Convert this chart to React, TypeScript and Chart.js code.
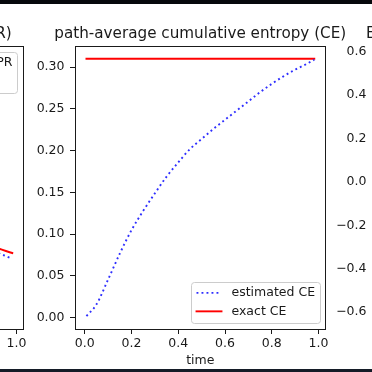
import React, { useEffect, useRef } from "react";
import { Chart, registerables } from "chart.js";

Chart.register(...registerables);

const FONT = "'DejaVu Sans', sans-serif";
const INK = "#1a1a1a";
const BLUE = "#2f2fff";
const RED = "#ff0000";

// shared time axis
const X_TICKS = [0, 0.2, 0.4, 0.6, 0.8, 1.0];
const X_MIN = -0.042;
const X_MAX = 1.03;

// middle panel: path-average cumulative entropy
const CE_TIME = [0.007, 0.05, 0.1, 0.15, 0.2, 0.25, 0.3, 0.35, 0.4, 0.45, 0.5, 0.55, 0.6, 0.65, 0.7, 0.75, 0.8, 0.85, 0.9, 0.95, 0.982];
const CE_ESTIMATED = [0.002, 0.016, 0.046, 0.077, 0.105, 0.128, 0.149, 0.169, 0.186, 0.202, 0.214, 0.226, 0.237, 0.248, 0.259, 0.27, 0.28, 0.289, 0.297, 0.304, 0.309];
const CE_EXACT_TIME = [0.007, 0.982];
const CE_EXACT = [0.31, 0.31];
const CE_Y_TICKS = [0, 0.05, 0.1, 0.15, 0.2, 0.25, 0.3];
const CE_Y_MIN = -0.0135;
const CE_Y_MAX = 0.3245;

// left panel: entropy production rate (only its right edge is in view)
const EPR_TIME = [0.007, 0.2, 0.4, 0.6, 0.8, 0.9, 0.982];
const EPR_ESTIMATED = [0.27, 0.19, 0.15, 0.117, 0.092, 0.08, 0.0706];
const EPR_EXACT = [0.28, 0.2, 0.155, 0.122, 0.097, 0.085, 0.0775];
const EPR_Y_TICKS = [0, 0.1, 0.2, 0.3];
const EPR_Y_MIN = -0.0135;
const EPR_Y_MAX = 0.3245;

// right panel (only its y tick labels are in view)
const ERR_Y_TICKS = [-0.6, -0.4, -0.2, 0, 0.2, 0.4, 0.6];
const ERR_Y_MIN = -0.678;
const ERR_Y_MAX = 0.623;

type LegendItem = { label: string; color: string; dash: number[] };
type Spec = {
  offset: number;
  title: string;
  datasets: any[];
  yMin: number;
  yMax: number;
  yTicks: number[];
  yDecimals: number;
  legend: LegendItem[] | null;
  corner: "upper right" | "lower right";
};

const fmt = (v: number, d: number) => {
  const s = Math.abs(v).toFixed(d);
  return v < -1e-9 ? "\u2212" + s : s;
};

const dotted = (xs: number[], ys: number[], label: string) => ({
  label,
  data: xs.map((x, i) => ({ x, y: ys[i] })),
  borderColor: BLUE,
  borderWidth: 1.9,
  borderDash: [1.9, 3.1],
  borderCapStyle: "butt",
  pointRadius: 0,
  cubicInterpolationMode: "monotone",
  fill: false,
});

const solid = (xs: number[], ys: number[], label: string) => ({
  label,
  data: xs.map((x, i) => ({ x, y: ys[i] })),
  borderColor: RED,
  borderWidth: 1.9,
  borderCapStyle: "square",
  pointRadius: 0,
  cubicInterpolationMode: "monotone",
  fill: false,
});

const decor = {
  id: "decor",
  afterDraw(chart: any, _args: any, opts: any) {
    const { ctx, chartArea: a } = chart;
    ctx.save();
    // spines
    ctx.strokeStyle = INK;
    ctx.lineWidth = 1;
    const l = Math.floor(a.left) + 0.5;
    const r = Math.floor(a.right) + 0.5;
    const t = Math.floor(a.top) + 0.5;
    const b = Math.floor(a.bottom) + 0.5;
    ctx.strokeRect(l, t, r - l, b - t);
    // title
    ctx.fillStyle = INK;
    ctx.font = `15.2px ${FONT}`;
    ctx.textAlign = "center";
    ctx.textBaseline = "alphabetic";
    ctx.fillText(opts.title, (a.left + a.right) / 2, 37.5);
    // legend
    const items: LegendItem[] | null = opts.legend;
    if (items && items.length) {
      const fs = 12.5;
      ctx.font = `${fs}px ${FONT}`;
      const maxW = Math.max(...items.map((i) => ctx.measureText(i.label).width));
      const pad = 5, handle = 25, gap = 10, rowH = 12.7, spacing = 5.8;
      const w = pad * 2 + handle + gap + maxW;
      const h = pad * 2 + rowH * items.length + spacing * (items.length - 1);
      const x0 = Math.round(a.right - 6 - w) + 0.5;
      const y0 = Math.round(opts.corner === "upper right" ? a.top + 5.5 : a.bottom - 6.3 - h) + 0.5;
      ctx.beginPath();
      ctx.roundRect(x0, y0, Math.round(w), Math.round(h), 3);
      ctx.fillStyle = "rgba(255,255,255,0.8)";
      ctx.fill();
      ctx.strokeStyle = "#cccccc";
      ctx.lineWidth = 1;
      ctx.stroke();
      items.forEach((it, i) => {
        const cy = y0 + pad + rowH / 2 + i * (rowH + spacing) - 1;
        ctx.beginPath();
        ctx.setLineDash(it.dash);
        ctx.strokeStyle = it.color;
        ctx.lineWidth = 1.9;
        ctx.lineCap = it.dash.length ? "butt" : "square";
        ctx.moveTo(x0 + pad, cy);
        ctx.lineTo(x0 + pad + handle, cy);
        ctx.stroke();
        ctx.setLineDash([]);
        ctx.fillStyle = INK;
        ctx.textAlign = "left";
        ctx.textBaseline = "middle";
        ctx.fillText(it.label, x0 + pad + handle + gap, cy);
      });
    }
    ctx.restore();
  },
};

function makeConfig(spec: Spec): any {
  const tickFont = { family: FONT, size: 12.5 };
  return {
    type: "line",
    data: { datasets: spec.datasets },
    plugins: [decor],
    options: {
      animation: false,
      responsive: false,
      devicePixelRatio: 1,
      events: [],
      layout: { padding: { top: 46.7, right: 46.5, left: 0, bottom: 0 } },
      plugins: {
        legend: { display: false },
        tooltip: { enabled: false },
        title: { display: false },
        decor: { title: spec.title, legend: spec.legend, corner: spec.corner },
      },
      scales: {
        x: {
          type: "linear",
          min: X_MIN,
          max: X_MAX,
          afterBuildTicks: (s: any) => {
            s.ticks = X_TICKS.map((v) => ({ value: v }));
          },
          afterFit: (s: any) => {
            s.height = 43;
          },
          ticks: {
            callback: (v: any) => fmt(Number(v), 1),
            font: tickFont,
            color: INK,
            padding: 2,
            maxRotation: 0,
            autoSkip: false,
          },
          grid: { display: true, drawOnChartArea: false, drawTicks: true, tickLength: 5, color: INK, lineWidth: 1 },
          border: { display: false },
          title: {
            display: true,
            text: "time",
            font: { family: FONT, size: 12.5 },
            color: INK,
            padding: { top: 0, bottom: 4 },
          },
        },
        y: {
          type: "linear",
          min: spec.yMin,
          max: spec.yMax,
          afterBuildTicks: (s: any) => {
            s.ticks = spec.yTicks.map((v) => ({ value: v }));
          },
          afterFit: (s: any) => {
            s.width = 75;
          },
          ticks: {
            callback: (v: any) => fmt(Number(v), spec.yDecimals),
            font: tickFont,
            color: INK,
            padding: 5.5,
            autoSkip: false,
          },
          grid: { display: true, drawOnChartArea: false, drawTicks: true, tickLength: 5, color: INK, lineWidth: 1 },
          border: { display: false },
        },
      },
    },
  };
}

const SPECS: Spec[] = [
  {
    offset: -302,
    title: "entropy production rate (EPR)",
    datasets: [dotted(EPR_TIME, EPR_ESTIMATED, "estimated EPR"), solid(EPR_TIME, EPR_EXACT, "exact EPR")],
    yMin: EPR_Y_MIN,
    yMax: EPR_Y_MAX,
    yTicks: EPR_Y_TICKS,
    yDecimals: 1,
    legend: [
      { label: "estimated EPR", color: BLUE, dash: [1.9, 3.1] },
      { label: "exact EPR", color: RED, dash: [] },
    ],
    corner: "upper right",
  },
  {
    offset: 0,
    title: "path-average cumulative entropy (CE)",
    datasets: [dotted(CE_TIME, CE_ESTIMATED, "estimated CE"), solid(CE_EXACT_TIME, CE_EXACT, "exact CE")],
    yMin: CE_Y_MIN,
    yMax: CE_Y_MAX,
    yTicks: CE_Y_TICKS,
    yDecimals: 2,
    legend: [
      { label: "estimated CE", color: BLUE, dash: [1.9, 3.1] },
      { label: "exact CE", color: RED, dash: [] },
    ],
    corner: "lower right",
  },
  {
    offset: 302,
    title: "Estimation error: estimated \u2212 exact",
    datasets: [],
    yMin: ERR_Y_MIN,
    yMax: ERR_Y_MAX,
    yTicks: ERR_Y_TICKS,
    yDecimals: 1,
    legend: null,
    corner: "upper right",
  },
];

function Panel({ spec }: { spec: Spec }) {
  const ref = useRef<HTMLCanvasElement>(null);
  useEffect(() => {
    const chart = new Chart(ref.current as HTMLCanvasElement, makeConfig(spec));
    return () => chart.destroy();
  }, [spec]);
  return (
    <canvas
      ref={ref}
      width={372}
      height={372}
      style={{ position: "absolute", left: spec.offset, top: 0, width: 372, height: 372 }}
    />
  );
}

export default function App() {
  return (
    <div
      style={{
        position: "fixed",
        left: 0,
        top: 0,
        width: 372,
        height: 372,
        overflow: "hidden",
        background: "#ffffff",
      }}
    >
      {SPECS.map((s, i) => (
        <Panel key={i} spec={s} />
      ))}
      <div style={{ position: "absolute", left: 0, top: 0, width: 372, height: 4, background: "#06080c" }} />
      <div style={{ position: "absolute", left: 0, top: 369, width: 372, height: 3, background: "#141b27" }} />
    </div>
  );
}
